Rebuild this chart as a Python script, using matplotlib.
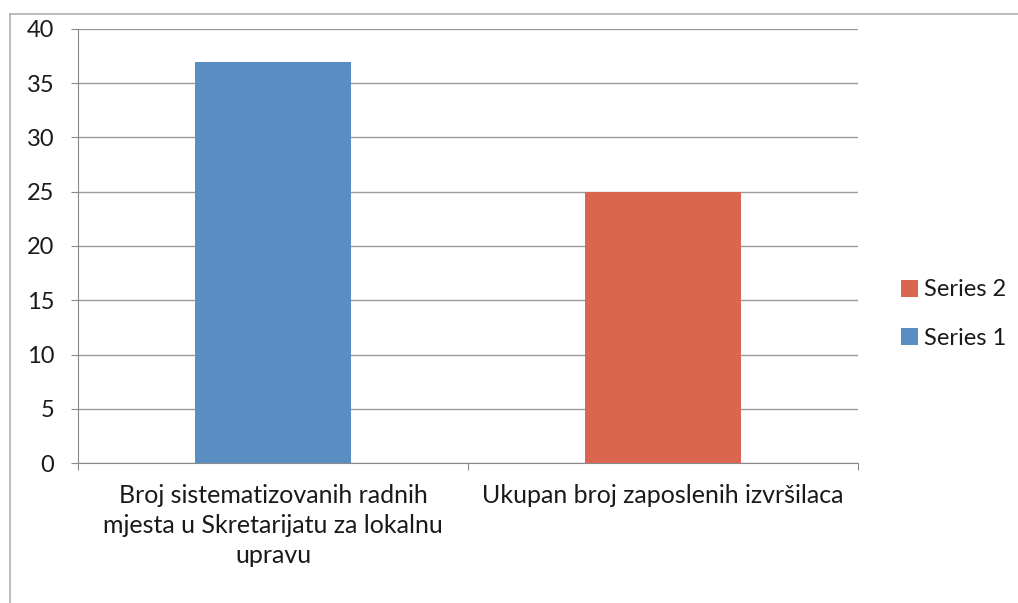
import matplotlib.pyplot as plt
from matplotlib.lines import Line2D

# data
categories = ['Broj sistematizovanih radnih\nmjesta u Skretarijatu za lokalnu\nupravu',
              'Ukupan broj zaposlenih izvršilaca']
series1 = [37, 0]
series2 = [0, 25]
yticks = [0, 5, 10, 15, 20, 25, 30, 35, 40]

plt.rcParams['font.family'] = ['Lato', 'DejaVu Sans']

fig = plt.figure(figsize=(10.18, 6.03), dpi=100)
ax = fig.add_axes([78 / 1018, 1 - 463 / 603, 780 / 1018, 434 / 603])

x = [0, 1]
ax.bar(x, series1, width=0.4, color='#5A8DC2', label='Series 1', zorder=3)
ax.bar(x, series2, width=0.4, bottom=series1, color='#DA6650', label='Series 2', zorder=3)

ax.set_xlim(-0.5, 1.5)
ax.set_ylim(0, 40)
ax.set_yticks(yticks)
ax.yaxis.grid(True, color='#9a9a9a', linewidth=1.0, zorder=0)
ax.set_xticks([-0.5, 0.5, 1.5], minor=False)
ax.set_xticklabels([])
ax.set_xticks(x, minor=True)
ax.set_xticklabels(categories, minor=True, fontsize=18, color='#1a1a1a', linespacing=1.38)
ax.tick_params(axis='x', which='minor', length=0, pad=15)
ax.tick_params(axis='x', which='major', length=5, color='#8a8a8a', direction='out')
ax.tick_params(axis='y', length=5, color='#8a8a8a', labelsize=17, labelcolor='#1a1a1a', pad=12)

for s in ['top', 'right']:
    ax.spines[s].set_visible(False)
for s in ['left', 'bottom']:
    ax.spines[s].set_color('#8a8a8a')

handles, labels = ax.get_legend_handles_labels()
fig.legend(handles[::-1], labels[::-1], loc='center left',
           bbox_to_anchor=(892 / 1018, 1 - 314 / 603), borderaxespad=0,
           frameon=False, fontsize=17, handlelength=0.72, handleheight=0.72,
           handletextpad=0.25, labelspacing=1.15, labelcolor='#1a1a1a')

# outer chart border
fig.add_artist(Line2D([10 / 1018, 10 / 1018], [0, 1 - 14 / 603], transform=fig.transFigure,
                      color='#b0b0b0', linewidth=1.2))
fig.add_artist(Line2D([10 / 1018, 1], [1 - 14 / 603, 1 - 14 / 603], transform=fig.transFigure,
                      color='#b0b0b0', linewidth=1.2))

fig.savefig('out.png', dpi=100)
